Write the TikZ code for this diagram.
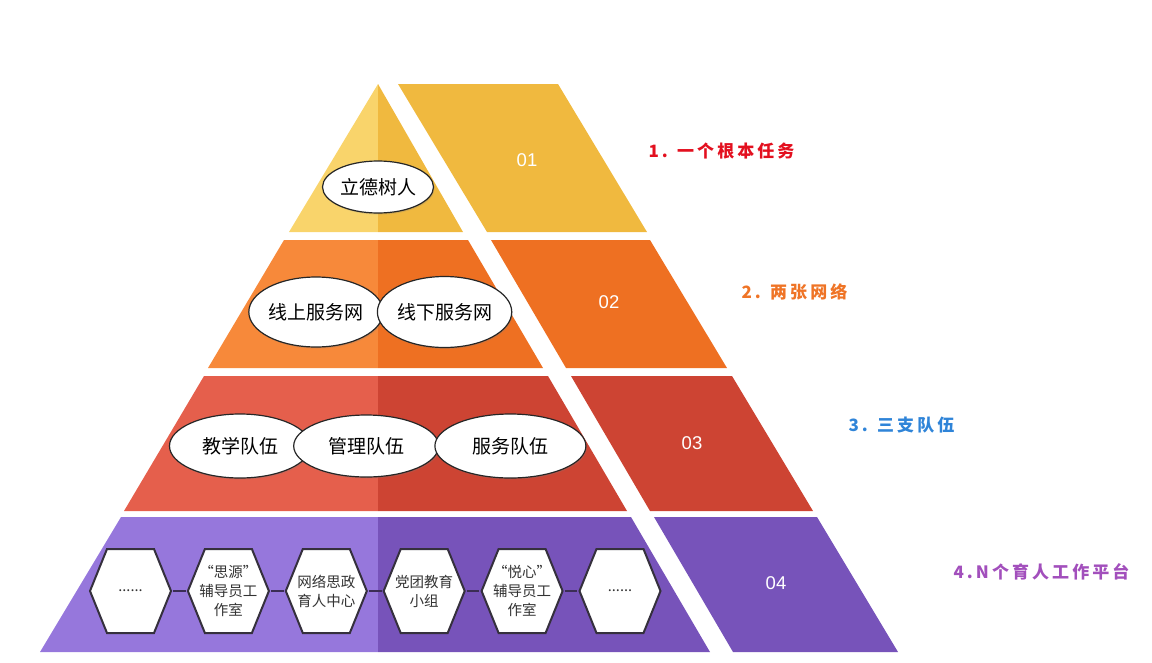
\documentclass[tikz,border=0pt]{standalone}
\usepackage{fontspec}
\usepackage{tikz}
\usetikzlibrary{shapes, positioning, calc, shadows}
\newfontfamily\cjk{Noto Sans CJK SC}
\newfontfamily\cjktag{Noto Sans CJK SC}[LetterSpace=18]
\newfontfamily\numfont{Liberation Sans}
\definecolor{yellowA}{HTML}{F9D46B}
\definecolor{yellowB}{HTML}{F0B93F}
\definecolor{orangeA}{HTML}{F7893A}
\definecolor{orangeB}{HTML}{EE7022}
\definecolor{redA}{HTML}{E55F4C}
\definecolor{redB}{HTML}{CD4433}
\definecolor{purpleA}{HTML}{9677DC}
\definecolor{purpleB}{HTML}{7753BA}
\definecolor{hexgray}{HTML}{35303D}
\definecolor{linkdark}{HTML}{3B2D55}
\definecolor{tagred}{HTML}{E3101F}
\definecolor{tagorange}{HTML}{EF7426}
\definecolor{tagblue}{HTML}{2F84D8}
\definecolor{tagpurple}{HTML}{A24FBC}
\tikzset{
	oval/.style={ellipse, draw=black!85, line width=1.2pt, fill=white, inner sep=0pt,
		font=\cjk\fontsize{19}{22}\selectfont,
		drop shadow={opacity=0.25, shadow xshift=1pt, shadow yshift=-1.5pt}},
	hexbox/.style={minimum width=85pt, minimum height=88pt, inner sep=0pt, align=center,
		text=black!80, font=\cjk\fontsize{14.5}{19}\selectfont,
		path picture={\filldraw[fill=white, draw=hexgray, line width=2pt]
			($(path picture bounding box.west)+(2,0)$) -- ++(17,-42) -- ++(47,0)
			-- ++(17,42) -- ++(-17,42) -- ++(-47,0) -- cycle;}},
	link/.style={draw=linkdark, line width=2pt},
	tag/.style={anchor=west, font=\cjktag\bfseries\fontsize{17}{20}\selectfont},
	num/.style={text=white, font=\numfont\fontsize{18.5}{22}\selectfont}
}
\begin{document}
\begin{tikzpicture}[x=1pt, y=-1pt]
	\useasboundingbox (0,0) rectangle (1152,662);
	\foreach \yt/\yb/\lt/\lb/\gt/\gb/\rt/\rb/\ot/\ob/\ca/\cb in {
		84/232/378/289/378/463/398/487/558/647/yellowA/yellowB,
		240/368/284/208/468/543/491/566/650/727/orangeA/orangeB,
		376/511/204/124/548/627/571/650/732/813/redA/redB,
		517/652/121/40/631/710/654/733/817/898/purpleA/purpleB}
	{
		\fill[\ca] (\lt,\yt) -- (378,\yt) -- (378,\yb) -- (\lb,\yb) -- cycle;
		\fill[\cb] (378,\yt) -- (\gt,\yt) -- (\gb,\yb) -- (378,\yb) -- cycle;
		\fill[\cb] (\rt,\yt) -- (\ot,\yt) -- (\ob,\yb) -- (\rb,\yb) -- cycle;
	}

	\node[oval, minimum width=111pt, minimum height=52pt] (ldsr) at (378,187) {立德树人};

	\node[oval, minimum width=128pt, minimum height=70pt] (xsfw) at (316,312) {线上服务网};
	\node[oval, minimum width=132pt, minimum height=71pt, right=-7pt of xsfw] (xxfw) {线下服务网};

	\node[oval, minimum width=141pt, minimum height=64pt] (jxdw) at (240,446) {教学队伍};
	\node[oval, minimum width=145pt, minimum height=62pt, right=-18pt of jxdw] (gldw) {管理队伍};
	\node[oval, minimum width=151pt, minimum height=64pt, right=-5pt of gldw] (fwdw) {服务队伍};

	\node[hexbox] (h1) at (130.5,591) {......};
	\node[hexbox, right=12.5pt of h1] (h2) {“思源”\\辅导员工\\作室};
	\node[hexbox, right=12.5pt of h2] (h3) {网络思政\\育人中心};
	\node[hexbox, right=12.5pt of h3] (h4) {党团教育\\小组};
	\node[hexbox, right=12.5pt of h4] (h5) {“悦心”\\辅导员工\\作室};
	\node[hexbox, right=12.5pt of h5] (h6) {......};
	\foreach \from/\to in {h1/h2,h2/h3,h3/h4,h4/h5,h5/h6}
		\draw[link] (\from) -- (\to);

	\node[num] (n1) at (527,160) {01};
	\node[num] (n2) at (609,302) {02};
	\node[num] (n3) at (692,443) {03};
	\node[num] (n4) at (776,583) {04};

	\node[tag, text=tagred] (t1) at (645,151) {1. 一个根本任务};
	\node[tag, text=tagorange] (t2) at (738,292) {2. 两张网络};
	\node[tag, text=tagblue] (t3) at (845,425) {3. 三支队伍};
	\node[tag, text=tagpurple] (t4) at (950,572) {4.N个育人工作平台};
\end{tikzpicture}
\end{document}
